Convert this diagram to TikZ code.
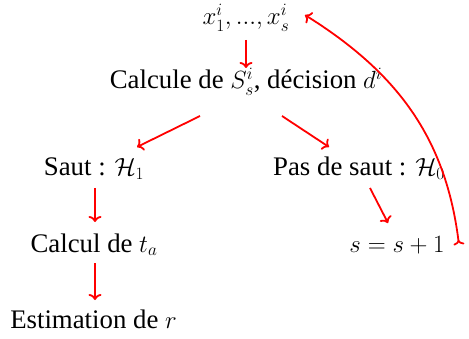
\documentclass[tikz,border=0pt]{standalone}
\usepackage[no-math]{fontspec}
\setmainfont{Liberation Serif}
\usetikzlibrary{arrows.meta}
\begin{document}
\begin{tikzpicture}[x=1pt,y=1pt,
  lbl/.style={anchor=base,inner sep=0pt,font=\fontsize{26.8}{32}\selectfont},
  arr/.style={red,line width=1.8pt,-{To[length=6pt,width=13pt]}},
  loop/.style={red,line width=1.8pt,{To[length=5pt,width=11pt,reversed]}-{To[length=6pt,width=13pt]}}]
\useasboundingbox (0,0) rectangle (469,338);
\node[lbl] (x) at (246,313) {$x_1^i,...,x_s^i$};
\node[lbl] (calc) at (246,249) {Calcule de $S_s^i$, décision $d^i$};
\node[lbl] (saut) at (94,162) {Saut : $\mathcal{H}_1$};
\node[lbl] (pas) at (359,162) {Pas de saut : $\mathcal{H}_0$};
\node[lbl] (ta) at (94,86) {Calcul de $t_a$};
\node[lbl] (s) at (397,86) {$s=s+1$};
\node[lbl] (est) at (93.5,10) {Estimation de $r$};
\draw[arr] ([yshift=-15pt]x.base) -- ([yshift=21pt]calc.base);
\draw[arr] ([shift={(-46pt,-27pt)}]calc.base) -- ([shift={(43pt,29pt)}]saut.base);
\draw[arr] ([shift={(36pt,-27pt)}]calc.base) -- ([shift={(-30pt,29pt)}]pas.base);
\draw[arr] ([shift={(1pt,-12pt)}]saut.base) -- ([shift={(1pt,30pt)}]ta.base);
\draw[arr] ([shift={(11pt,-12pt)}]pas.base) -- ([shift={(-9pt,29pt)}]s.base);
\draw[arr] ([shift={(1pt,-11pt)}]ta.base) -- ([shift={(1.5pt,28pt)}]est.base);
\draw[loop] ([shift={(62pt,7pt)}]s.base) to[out=97,in=-32] ([shift={(59pt,10pt)}]x.base);
\end{tikzpicture}
\end{document}
